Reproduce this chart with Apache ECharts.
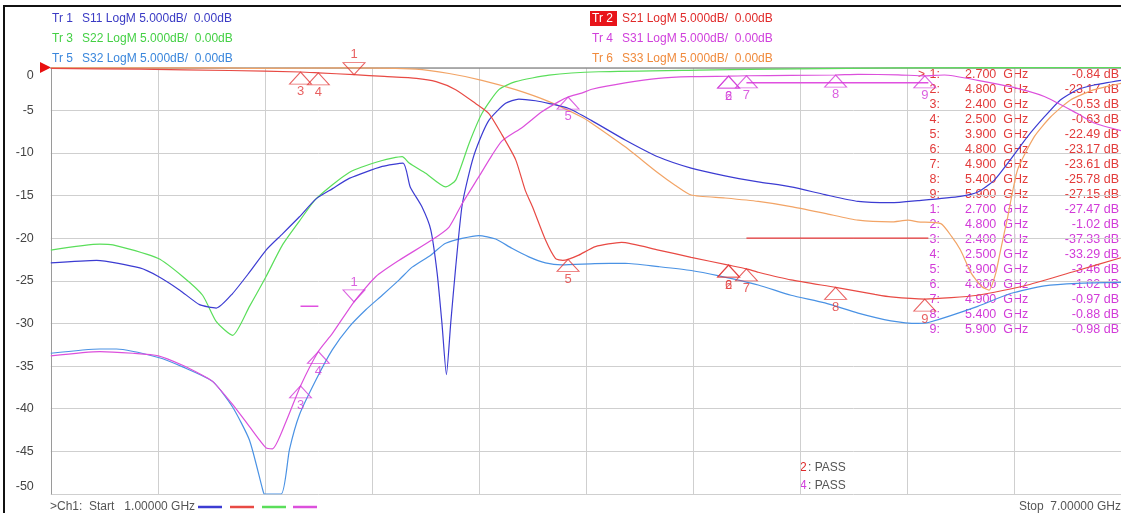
<!DOCTYPE html>
<html><head><meta charset="utf-8">
<script src="https://cdn.jsdelivr.net/npm/echarts@6/dist/echarts.min.js"></script>
<style>html,body{margin:0;padding:0;background:#fff}#c{width:1121px;height:513px}</style>
</head><body><div id="c"></div>
<script>
// ---- data (GHz, dB) ----
const s11Freq = [1.000,1.257,1.499,1.603,1.723,1.834,1.928,2.019,2.114,2.207,2.299,2.394,2.487,2.580,2.673,2.858,2.975,3.015,3.080,3.130,3.166,3.193,3.218,3.242,3.270,3.305,3.345,3.382,3.456,3.550,3.624,3.718,3.790,3.904,4.030,4.220,4.407,4.590,4.780,4.966,5.150,5.340,5.526,5.710,5.862,6.100,6.197,6.290,6.380,6.476,6.570,6.660,6.756,6.850,7.000];
const s11Db   = [-22.9,-22.6,-23.5,-24.5,-26.1,-27.8,-28.2,-26.5,-24.0,-21.4,-19.5,-17.5,-15.4,-14.2,-13.0,-11.6,-11.2,-14.0,-16.3,-19.0,-24.1,-30.0,-36.0,-30.0,-23.4,-16.3,-12.4,-9.7,-6.2,-4.2,-3.7,-3.9,-4.2,-4.8,-6.2,-8.5,-10.5,-11.8,-12.7,-13.4,-14.0,-14.9,-15.7,-15.85,-15.6,-15.1,-14.6,-13.2,-10.8,-8.1,-5.8,-3.8,-2.6,-2.05,-1.5];

const s21Freq = [1.0,1.5,2.0,2.4,2.5,2.7,2.87,3.05,3.16,3.27,3.38,3.456,3.53,3.606,3.66,3.70,3.773,3.83,3.87,3.9,3.96,4.053,4.2,4.407,4.59,4.8,4.9,4.966,5.15,5.4,5.62,5.71,5.9,6.197,6.476,6.756,7.0];
const s21Db   = [-0.1,-0.2,-0.35,-0.53,-0.63,-0.84,-1.05,-1.27,-1.66,-2.6,-4.2,-5.4,-7.9,-10.8,-14.4,-16.3,-20.2,-22.4,-22.6,-22.49,-22.0,-21.0,-20.5,-21.4,-22.25,-23.17,-23.61,-24.0,-24.9,-25.78,-26.6,-26.9,-27.15,-26.7,-25.5,-23.8,-22.3];

const s22Freq = [1.0,1.275,1.348,1.603,1.739,1.851,1.928,2.019,2.114,2.207,2.299,2.394,2.487,2.673,2.858,2.970,3.009,3.102,3.214,3.270,3.345,3.417,3.512,3.606,3.793,4.073,4.631,5.19,5.75,7.0];
const s22Db   = [-21.4,-20.7,-20.8,-22.4,-24.5,-26.7,-29.8,-31.4,-28.0,-24.5,-20.8,-18.0,-15.4,-12.3,-10.9,-10.45,-11.2,-12.4,-14.0,-13.2,-8.9,-5.4,-2.6,-1.66,-0.9,-0.5,-0.3,-0.15,-0.05,0];

const s31Freq = [1.0,1.275,1.459,1.603,1.739,1.834,1.907,2.019,2.114,2.207,2.243,2.319,2.4,2.5,2.578,2.7,2.823,2.953,3.138,3.233,3.305,3.40,3.473,3.53,3.645,3.753,3.848,3.9,3.976,4.033,4.22,4.407,4.59,4.8,4.9,5.15,5.4,5.526,5.75,5.9,6.01,6.197,6.38,6.57,6.756,6.85,7.0];
const s31Db   = [-33.8,-33.3,-33.5,-33.8,-34.9,-35.9,-36.8,-39.5,-42.1,-44.6,-44.7,-41.5,-37.33,-33.29,-31.2,-27.47,-24.5,-22.6,-20.2,-18.7,-16.0,-12.8,-10.3,-8.6,-7.0,-5.2,-4.0,-3.46,-3.0,-2.55,-1.8,-1.27,-1.08,-1.02,-0.97,-0.93,-0.88,-0.8,-0.86,-0.98,-0.88,-1.5,-2.25,-3.4,-5.4,-6.5,-7.4];

const s32Freq = [1.0,1.275,1.368,1.603,1.739,1.907,2.019,2.114,2.188,2.198,2.292,2.338,2.394,2.487,2.578,2.673,2.766,2.858,2.953,3.026,3.13,3.214,3.40,3.494,3.585,3.68,3.773,3.864,4.05,4.22,4.407,4.59,4.74,4.966,5.15,5.34,5.526,5.71,5.862,5.92,6.197,6.38,6.57,6.756,7.0];
const s32Db   = [-33.5,-33.0,-33.0,-34.0,-35.1,-36.8,-39.8,-43.7,-49.5,-50,-50,-44.8,-40.7,-36.6,-33.1,-30.4,-28.4,-26.7,-24.9,-23.4,-22.0,-20.6,-19.7,-20.1,-21.2,-22.2,-22.9,-23.15,-23.0,-22.95,-23.35,-23.8,-24.4,-25.5,-26.7,-27.6,-28.8,-29.7,-30.0,-29.9,-28.0,-26.5,-25.6,-25.3,-25.2];

const s33Freq = [1.0,1.5,2.0,2.114,2.67,3.046,3.233,3.417,3.606,3.793,3.976,4.03,4.22,4.407,4.50,4.59,4.78,4.966,5.15,5.34,5.526,5.71,5.806,5.862,5.99,6.05,6.10,6.16,6.22,6.26,6.298,6.325,6.365,6.42,6.514,6.605,6.717,6.85,7.0];
const s33Db   = [-0.05,-0.05,-0.05,-0.1,-0.05,-0.2,-0.7,-1.5,-2.6,-4.0,-5.8,-6.5,-9.3,-12.4,-13.8,-14.95,-15.3,-15.7,-16.3,-17.1,-17.9,-18.1,-17.9,-18.1,-18.3,-19.8,-21.4,-24.1,-25.7,-26.1,-24.1,-21.4,-17.5,-12.0,-8.1,-5.8,-3.8,-2.6,-1.85];

// markers
const markerNames = ['1','2','3','4','5','6','7','8','9'];
const s21MarkFreq = [2.7,4.8,2.4,2.5,3.9,4.8,4.9,5.4,5.9];
const s21MarkDb   = [-0.84,-23.17,-0.53,-0.63,-22.49,-23.17,-23.61,-25.78,-27.15];
const s31MarkFreq = [2.7,4.8,2.4,2.5,3.9,4.8,4.9,5.4,5.9];
const s31MarkDb   = [-27.47,-1.02,-37.33,-33.29,-3.46,-1.02,-0.97,-0.88,-0.98];

// limit lines
const s21LimitFreq = [4.9,5.92];
const s21LimitDb   = [-20,-20];
const s31LimitAFreq = [2.4,2.5];
const s31LimitADb   = [-28,-28];
const s31LimitBFreq = [4.9,5.92];
const s31LimitBDb   = [-1.8,-1.8];

// ---- colours ----
const C = {s11:'#3c3cd2', s21:'#e84a44', s22:'#5ade5a', s31:'#dc50dc', s32:'#4a92e4', s33:'#f2a466'};
const MR = '#e23a3a', MM = '#d23ad8';

const zip = (f,d)=>f.map((x,i)=>[x,d[i]]);
function line(name, f, d, color, w){
  return {type:'line', name, data:zip(f,d), xAxisIndex:0, yAxisIndex:0, showSymbol:false,
    lineStyle:{color, width:w||1.2}, itemStyle:{color}, smooth:0.2, animation:false, silent:true, z:3};
}
const UP = 'path://M0,0L11,12L-11,12Z';
const DN = 'path://M-11,0L11,0L0,12Z';
function markers(f, d, color){
  return {type:'scatter', xAxisIndex:0, yAxisIndex:0, animation:false, silent:true, z:6,
    data: f.map((x,i)=>{
      const active = i===0;
      return {value:[x,d[i]], name:markerNames[i], symbol: active?DN:UP,
        symbolOffset:[0, active?-6:6],
        label:{show:true, position: active?'top':'bottom', distance:1}};
    }),
    symbolSize:[22,12],
    itemStyle:{color:'rgba(255,255,255,0)', borderColor:color, borderWidth:1},
    label:{show:true, formatter:'{b}', color, fontSize:13, fontFamily:'Liberation Sans, Arial'}
  };
}

// ---- texts ----
const FF = 'Liberation Sans, Arial, sans-serif';
const g = [];
function txt(x,y,s,color,opt){ g.push({type:'text', x, y, silent:true,
  style:Object.assign({text:s, fill:color, font:'12px '+FF, textVerticalAlign:'middle'}, opt||{})}); }
// frame
g.push({type:'line', shape:{x1:3,y1:6,x2:1121,y2:6}, style:{stroke:'#111', lineWidth:2}, silent:true});
g.push({type:'line', shape:{x1:4,y1:6,x2:4,y2:513}, style:{stroke:'#111', lineWidth:2}, silent:true});
// reference triangle
g.push({type:'polygon', shape:{points:[[40,62],[51,67.5],[40,73]]}, style:{fill:'#e81010'}, silent:true});
// trace titles
const titlesL = [['Tr 1','S11 LogM 5.000dB/  0.00dB','#3a3ac4'],['Tr 3','S22 LogM 5.000dB/  0.00dB','#44d044'],['Tr 5','S32 LogM 5.000dB/  0.00dB','#3a86dc']];
const titlesR = [['Tr 2','S21 LogM 5.000dB/  0.00dB','#e02a2a'],['Tr 4','S31 LogM 5.000dB/  0.00dB','#d040dc'],['Tr 6','S33 LogM 5.000dB/  0.00dB','#f08a3c']];
titlesL.forEach((t,i)=>{ txt(52,18.5+i*20,t[0],t[2]); txt(82,18.5+i*20,t[1],t[2]); });
g.push({type:'rect', shape:{x:590,y:11,width:27,height:15}, style:{fill:'#e8141a'}, silent:true});
titlesR.forEach((t,i)=>{ txt(592,18.5+i*20,t[0],i===0?'#fff':t[2]); txt(622,18.5+i*20,t[1],t[2]); });
// bottom
txt(50,507,'>Ch1:  Start   1.00000 GHz','#555');
[[198,C.s11],[230,C.s21],[262,C.s22],[293,C.s31]].forEach(p=>g.push({type:'line',shape:{x1:p[0],y1:507,x2:p[0]+24,y2:507},style:{stroke:p[1],lineWidth:2.5},silent:true}));
txt(1121,507,'Stop  7.00000 GHz','#555',{textAlign:'right'});
txt(800,468,'2','#e02a2a'); txt(808,468,': PASS','#555');
txt(800,486,'4','#d040dc'); txt(808,486,': PASS','#555');
// marker table
const rows = [];
s21MarkFreq.forEach((f,i)=>rows.push([markerNames[i], f, s21MarkDb[i], MR]));
s31MarkFreq.forEach((f,i)=>rows.push([markerNames[i], f, s31MarkDb[i], MM]));
rows.forEach((r,i)=>{
  const y = 75 + i*15;
  txt(940,y,r[0]+':',r[3],{textAlign:'right', font:'12.5px '+FF});
  txt(965,y,r[1].toFixed(3)+'  GHz',r[3],{font:'12.5px '+FF});
  txt(1119,y,r[2].toFixed(2)+' dB',r[3],{textAlign:'right', font:'12.5px '+FF});
});
txt(918,75,'>',MR);

const option = {
  animation:false,
  backgroundColor:'#fff',
  grid:{left:50.8, top:67.5, width:1073, height:426.5, containLabel:false},
  xAxis:[
    {type:'value', min:1, max:7, position:'bottom', axisLine:{show:true, lineStyle:{color:'#8a8a8a', width:1.5}},
     axisTick:{show:false}, axisLabel:{show:false}, splitLine:{show:false}},
    {type:'value', min:0, max:10, interval:1, position:'top', axisLine:{show:true, lineStyle:{color:'#b0b0b0', width:1}},
     axisTick:{show:false}, axisLabel:{show:false}, splitLine:{show:true, lineStyle:{color:'#cfcfcf', width:1}}}
  ],
  yAxis:{type:'value', min:-50, max:0, interval:5,
    axisLine:{show:true, lineStyle:{color:'#9a9a9a', width:1}}, axisTick:{show:false},
    splitLine:{show:true, lineStyle:{color:'#cfcfcf', width:1}},
    axisLabel:{margin:17, color:'#444', fontSize:12.5, fontFamily:FF,
      formatter:v=> v===0 ? '{t|0}' : (v===-50 ? '{b|-50}' : String(v)),
      rich:{t:{padding:[16,0,0,0], fontSize:12.5, color:'#444', fontFamily:FF}, b:{padding:[0,0,14,0], fontSize:12.5, color:'#444', fontFamily:FF}}}
  },
  series:[
    line('S33', s33Freq, s33Db, C.s33),
    line('S32', s32Freq, s32Db, C.s32),
    line('S22', s22Freq, s22Db, C.s22),
    line('S11', s11Freq, s11Db, C.s11),
    line('S31', s31Freq, s31Db, C.s31),
    line('S21', s21Freq, s21Db, C.s21),
    Object.assign(line('S21 limit', s21LimitFreq, s21LimitDb, '#e8383a', 1.2), {smooth:false}),
    Object.assign(line('S31 limit A', s31LimitAFreq, s31LimitADb, '#e050e0', 1.5), {smooth:false}),
    Object.assign(line('S31 limit B', s31LimitBFreq, s31LimitBDb, '#e050e0', 1.5), {smooth:false}),
    markers(s21MarkFreq, s21MarkDb, MR),
    markers(s31MarkFreq, s31MarkDb, MM)
  ],
  graphic:g
};
const chart = echarts.init(document.getElementById('c'), null, {renderer:'canvas'});
chart.setOption(option);
</script></body></html>
